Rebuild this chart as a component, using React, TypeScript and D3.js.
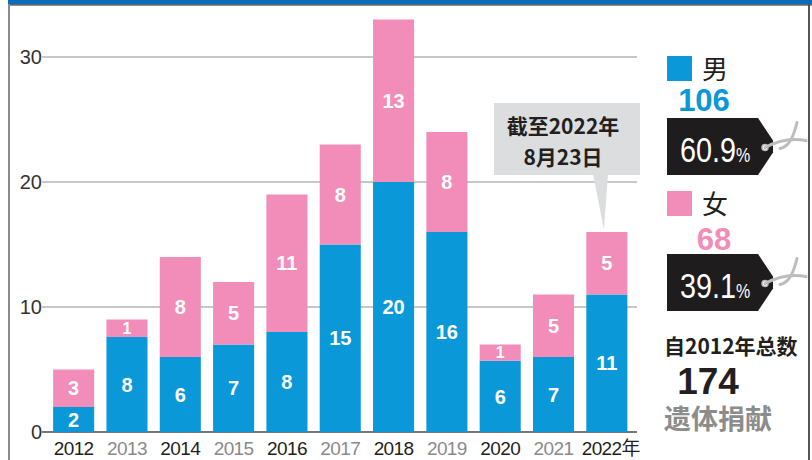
import React from "react";
import * as d3 from "d3";

const years = ["2012", "2013", "2014", "2015", "2016", "2017", "2018", "2019", "2020", "2021", "2022年"];
// segment heights as drawn in the picture
const male = [2, 7.6, 6, 7, 8, 15, 20, 16, 5.7, 6, 11];
const female = [3, 1.4, 8, 5, 11, 8, 13, 8, 1.3, 5, 5];
// value labels printed on the segments
const maleLabels = ["2", "8", "6", "7", "8", "15", "20", "16", "6", "7", "11"];
const femaleLabels = ["3", "1", "8", "5", "11", "8", "13", "8", "1", "5", "5"];
const yTicks = [0, 10, 20, 30];
const maleTotal = "106";
const femaleTotal = "68";
const malePct = "60.9";
const femalePct = "39.1";
const grandTotal = "174";

const BLUE = "#0a98d9";
const PINK = "#f28cb8";
const FONT = "'Liberation Sans', Arial, 'Noto Sans CJK SC', sans-serif";
const CJK = "'Noto Sans CJK SC', 'Liberation Sans', sans-serif";

function Tag({ y, pct }: { y: number; pct: string }) {
  const x0 = 667, x1 = 758, tip = 773, h = 57;
  const mid = y + h / 2;
  const d = `M${x0},${y} L${x1},${y} L${tip},${mid - 6} L${tip},${mid + 6} L${x1},${y + h} L${x0},${y + h} Z`;
  return (
    <g>
      <path d={d} fill="#1e1c1d" />
      <circle cx={765} cy={mid + 1} r={3} fill="#fff" stroke="#bbb" strokeWidth={1.5} />
      <path d={`M765,${mid + 1} C776,${mid - 5} 790,${mid - 9} 806,${mid - 6}`} fill="none" stroke="#bdbdbd" strokeWidth={3} strokeLinecap="round" />
      <path d={`M797,${mid - 24} C794,${mid - 12} 790,${mid} 780,${mid + 2}`} fill="none" stroke="#bdbdbd" strokeWidth={3} strokeLinecap="round" />
      <text transform={`translate(680,${y + 44}) scale(0.8,1)`} fill="#fff" fontFamily={FONT} fontSize={36}>
        {pct}
        <tspan fontSize={20}>%</tspan>
      </text>
    </g>
  );
}

export default function App() {
  const x = d3.scaleBand<string>().domain(years).range([47, 633.5]).paddingInner(0.23).paddingOuter(0.115);
  const y = d3.scaleLinear().domain([0, 30]).range([432, 57]);
  const stacked = years.map((yr, i) => ({ yr, m: male[i], f: female[i], ml: maleLabels[i], fl: femaleLabels[i] }));

  return (
    <svg width={812} height={460} style={{ position: "absolute", left: 0, top: 0, background: "#fff" }}>
      {/* frame */}
      <rect x={8} y={0} width={804} height={4.5} fill="#0a6cb6" />
      <line x1={8} x2={812} y1={5} y2={5} stroke="#222" strokeWidth={1.2} />
      <line x1={9} x2={9} y1={4} y2={460} stroke="#8a8a8a" strokeWidth={2} />
      <line x1={809} x2={809} y1={4} y2={460} stroke="#555" strokeWidth={2} />

      {/* gridlines */}
      {yTicks.map((t) => (
        <g key={t}>
          <line x1={42} x2={637} y1={y(t)} y2={y(t)} stroke={t === 0 ? "#777" : "#b5b5b5"} strokeWidth={t === 0 ? 2 : 1.3} />
          <text x={42} y={y(t)} dy="0.36em" textAnchor="end" fontFamily={FONT} fontSize={20} fill="#333">
            {t}
          </text>
        </g>
      ))}

      {/* bars */}
      {stacked.map((d) => {
        const bx = x(d.yr)!;
        const bw = x.bandwidth();
        const yM = y(d.m);
        const yT = y(d.m + d.f);
        return (
          <g key={d.yr}>
            <rect x={bx} y={yM} width={bw} height={y(0) - yM} fill={BLUE} />
            <rect x={bx} y={yT} width={bw} height={yM - yT} fill={PINK} />
            <text x={bx + bw / 2} y={(yM + y(0)) / 2} dy="0.36em" textAnchor="middle" fill="#fff" fontFamily={FONT} fontWeight="bold" fontSize={20}>
              {d.ml}
            </text>
            <text x={bx + bw / 2} y={(yT + yM) / 2} dy="0.36em" textAnchor="middle" fill="#fff" fontFamily={FONT} fontWeight="bold" fontSize={d.f < 2 ? 16 : 20}>
              {d.fl}
            </text>
          </g>
        );
      })}

      {/* x labels */}
      {years.map((yr, i) => (
        <text key={yr} x={x(yr)! + x.bandwidth() / 2 + (i === years.length - 1 ? 4 : 0)} y={455} textAnchor="middle" fontFamily={FONT} fontSize={19} letterSpacing={-0.6} fill={i % 2 === 0 ? "#231f20" : "#8a8a8a"}>
          {yr}
        </text>
      ))}

      {/* callout */}
      <rect x={494} y={103} width={146} height={72} fill="#dcdddf" />
      <path d="M593,174 L608,174 L604,230 Z" fill="#dcdddf" />
      <text x={563} y={134} textAnchor="middle" fontFamily={CJK} fontWeight="bold" fontSize={21} fill="#231f20">
        截至2022年
      </text>
      <text x={563} y={165} textAnchor="middle" fontFamily={CJK} fontWeight="bold" fontSize={21} fill="#231f20">
        8月23日
      </text>

      {/* legend male */}
      <rect x={667} y={56} width={25} height={25} fill={BLUE} />
      <text x={702} y={79} fontFamily={CJK} fontSize={26} fill="#231f20">男</text>
      <text x={704} y={111} textAnchor="middle" fontFamily={FONT} fontWeight="bold" fontSize={31} fill={BLUE}>
        {maleTotal}
      </text>
      <Tag y={118} pct={malePct} />

      {/* legend female */}
      <rect x={667} y={191} width={25} height={25} fill={PINK} />
      <text x={702} y={214} fontFamily={CJK} fontSize={26} fill="#231f20">女</text>
      <text x={714} y={250} textAnchor="middle" fontFamily={FONT} fontWeight="bold" fontSize={31} fill={PINK}>
        {femaleTotal}
      </text>
      <Tag y={254} pct={femalePct} />

      {/* totals */}
      <text x={664} y={354} fontFamily={CJK} fontWeight="bold" fontSize={21} fill="#231f20">
        自2012年总数
      </text>
      <text x={708} y={394} textAnchor="middle" fontFamily={FONT} fontWeight="bold" fontSize={37} fill="#231f20">
        {grandTotal}
      </text>
      <text x={664} y={429} fontFamily={CJK} fontWeight="bold" fontSize={27} fill="#8c8c8c">
        遗体捐献
      </text>
    </svg>
  );
}
